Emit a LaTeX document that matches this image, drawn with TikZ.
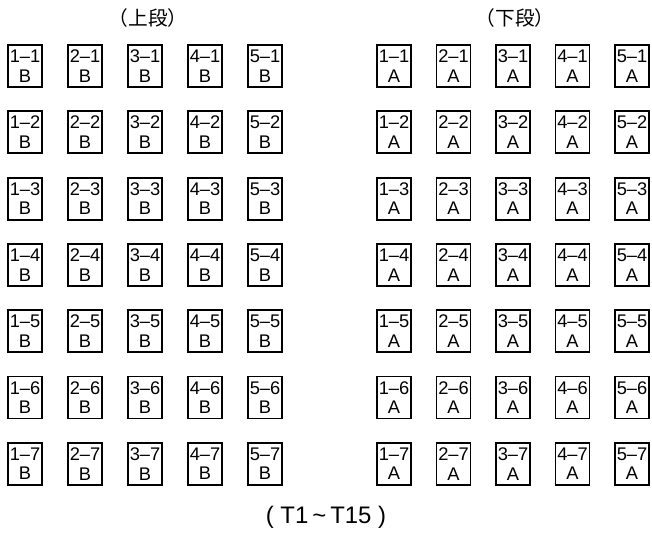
\documentclass[tikz,border=0pt]{standalone}
\usepackage{fontspec}
\setmainfont{Liberation Sans}
\newfontfamily\jpfont{Noto Sans CJK JP}
\usetikzlibrary{positioning}
\tikzset{
    cellbox/.style={rectangle, draw=black, line width=1.3pt, minimum width=0.85cm, minimum height=1.05cm, inner sep=0pt, align=center, font=\fontsize{13}{14}\selectfont},
    titlelbl/.style={font=\jpfont\fontsize{14}{16}\selectfont},
    notelbl/.style={font=\fontsize{17}{19}\selectfont}
}

\begin{document}
\begin{tikzpicture}[x=0.025cm, y=-0.025cm]
        \useasboundingbox (0,0) rectangle (652,533);
        % titles
        \node[titlelbl] (upper) at (148, 18) {（上段）};
        \node[titlelbl] (lower) at (515, 18) {（下段）};
        % upper tier, B
        \foreach \col in {1,...,5} {
          \foreach \row in {1,...,7} {
            \node[cellbox] (b-\col-\row) at ({25+60*(\col-1)}, {66+66.3*(\row-1)}) {\col–\row\\B};
          }
        }
        % lower tier, A
        \foreach \col in {1,...,5} {
          \foreach \row in {1,...,7} {
            \node[cellbox] (a-\col-\row) at ({394+59.5*(\col-1)}, {66+66.3*(\row-1)}) {\col–\row\\A};
          }
        }
        \node[notelbl] (range) at (326, 517) {( T1\,\textasciitilde\,T15 )};
\end{tikzpicture}
\end{document}
